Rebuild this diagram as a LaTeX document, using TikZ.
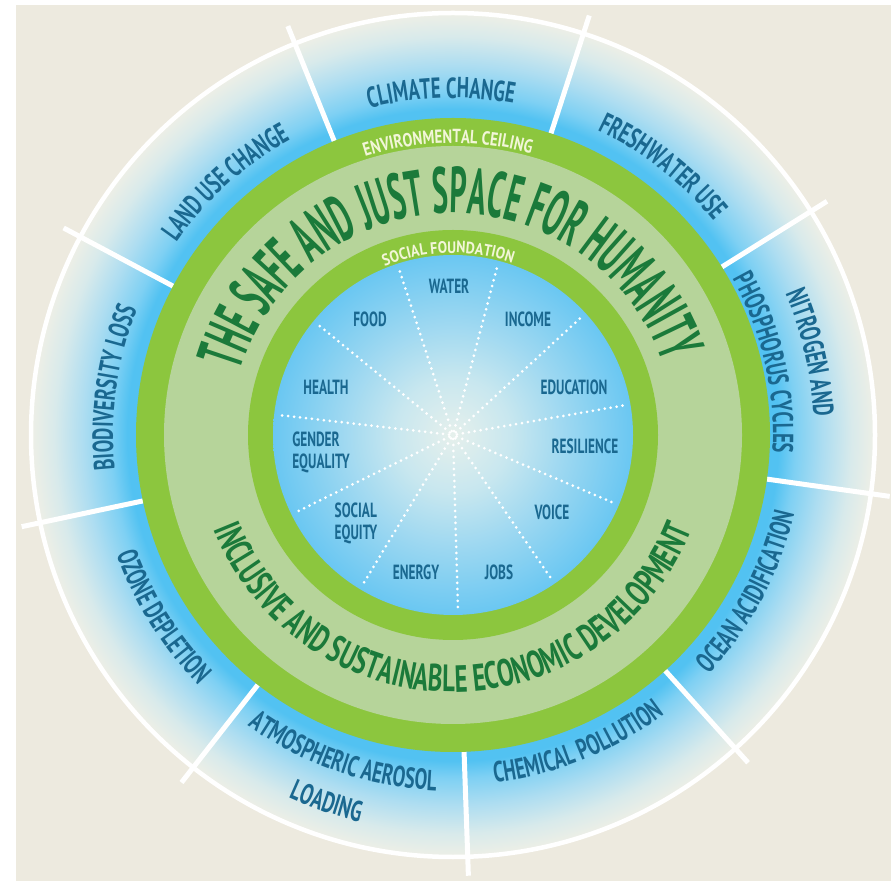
\documentclass[tikz,border=0pt]{standalone}
\usepackage{fontspec}
\usetikzlibrary{decorations.text}
\newfontfamily\labfont{PT Sans}[FakeStretch=0.65]
\newfontfamily\ringfont{PT Sans}[FakeStretch=0.78]
\newfontfamily\sfoundfont{PT Sans}[FakeStretch=0.85]
\newfontfamily\bigfont{PT Sans}[FakeStretch=0.46]
\newfontfamily\botfont{PT Sans}[FakeStretch=0.65]
\definecolor{beige}{HTML}{EDEADF}
\definecolor{ringblue}{HTML}{52C2F2}
\definecolor{ringblueb}{HTML}{7ED0F3}
\definecolor{ringbluec}{HTML}{ADDDF1}
\definecolor{ringblued}{HTML}{D8EAEB}
\definecolor{ringpale}{HTML}{EEEFE6}
\definecolor{corea}{HTML}{6AC7F2}
\definecolor{coreb}{HTML}{9BD7F1}
\definecolor{corec}{HTML}{C8E7EF}
\definecolor{cored}{HTML}{E6F0EC}
\definecolor{ringgreen}{HTML}{8CC63E}
\definecolor{lightgreen}{HTML}{B6D49A}
\definecolor{labblue}{HTML}{1A6890}
\definecolor{dgreen}{HTML}{1B7A3A}
\definecolor{palew}{HTML}{F2F6D8}
\pgfdeclareradialshading{ringshade}{\pgfpoint{0bp}{0bp}}{color(0bp)=(ringblue); color(18.8bp)=(ringblue); color(19.3bp)=(ringblue); color(20.3bp)=(ringblueb); color(21.9bp)=(ringbluec); color(23.6bp)=(ringblued); color(25bp)=(ringpale); color(50bp)=(ringpale)}
\pgfdeclareradialshading{coreshade}{\pgfpoint{0bp}{0bp}}{color(0bp)=(cored); color(8bp)=(corec); color(16bp)=(coreb); color(25bp)=(corea); color(50bp)=(corea)}
\newcommand\LabFmt{\labfont\bfseries\fontsize{29}{29}\selectfont\color{labblue}}
\newcommand\InFmt{\labfont\bfseries\fontsize{20.5}{22}\selectfont\color{labblue}}
\newcommand\TopArc[4]{\path[decorate,decoration={text along path,text align=center,text={|#3|#4}}] ({#1+85}:#2) arc[start angle={#1+85}, end angle={#1-85}, radius=#2pt];}
\newcommand\BotArc[4]{\path[decorate,decoration={text along path,text align=center,text={|#3|#4}}] ({#1-85}:#2) arc[start angle={#1-85}, end angle={#1+85}, radius=#2pt];}
\tikzset{
  sepline/.style={white, line width=5pt},
  dotline/.style={white, line width=3pt, line cap=round, dash pattern=on 0pt off 6pt},
  inlab/.style={font=\InFmt, inner sep=0pt}
}
\begin{document}
\begin{tikzpicture}[x=1pt,y=1pt]
\useasboundingbox (0,0) rectangle (891,881);
\fill[white] (0,0) rectangle (891,881);
\fill[beige] (16,0) rectangle (891,876);
\begin{scope}[shift={(453,446)}]
  % outer boundary band
  \shade[shading=ringshade] (0,0) circle[radius=422pt];
  \draw[white, line width=4.5pt] (0,0) circle[radius=422pt];
  \foreach \a in {32,72,...,352} \draw[sepline] (\a:317) -- (\a:441);
  % green rings
  \fill[ringgreen] (0,0) circle[radius=317pt];
  \fill[lightgreen] (0,0) circle[radius=289pt];
  \fill[ringgreen] (0,0) circle[radius=205pt];
  \shade[shading=coreshade] (0,0) circle[radius=180pt];
  % dotted spokes
  \foreach \i in {0,...,10} \draw[dotline] ({108-\i*32.7273}:4) -- ({108-\i*32.7273}:177);
  % planetary boundaries
  \TopArc{92}{337}{\LabFmt}{CLIMATE CHANGE}
  \TopArc{52}{337}{\LabFmt}{FRESHWATER USE}
  \TopArc{132}{337}{\LabFmt}{LAND USE CHANGE}
  \TopArc{172}{340}{\LabFmt}{BIODIVERSITY LOSS}
  \TopArc{13}{361}{\LabFmt}{NITROGEN AND}
  \TopArc{13}{320}{\LabFmt}{PHOSPHORUS CYCLES}
  \BotArc{212}{357}{\LabFmt}{OZONE DEPLETION}
  \BotArc{251}{356}{\LabFmt}{ATMOSPHERIC AEROSOL}
  \BotArc{251}{398}{\LabFmt}{LOADING}
  \BotArc{292}{350}{\LabFmt}{CHEMICAL POLLUTION}
  \BotArc{332}{350}{\LabFmt}{OCEAN ACIDIFICATION}
  % ring texts
  \TopArc{91}{292}{\ringfont\bfseries\fontsize{19}{19}\selectfont\color{palew}}{ENVIRONMENTAL CEILING}
  \TopArc{91.5}{182}{\sfoundfont\bfseries\fontsize{16.5}{16.5}\selectfont\color{palew}}{SOCIAL FOUNDATION}
  \TopArc{91.2}{222}{\bigfont\bfseries\fontsize{65}{65}\selectfont\color{dgreen}}{THE SAFE AND JUST SPACE FOR HUMANITY}
  \BotArc{270}{257}{\botfont\bfseries\fontsize{38}{38}\selectfont\color{dgreen}}{INCLUSIVE AND SUSTAINABLE ECONOMIC DEVELOPMENT}
\end{scope}
% social foundation dimensions
\node[inlab] (water) at (449,595) {WATER};
\node[inlab] (food) at (370,562) {FOOD};
\node[inlab] (income) at (528,562) {INCOME};
\node[inlab] (health) at (326,494) {HEALTH};
\node[inlab] (education) at (574,494) {EDUCATION};
\node[inlab, align=left] (gender) at (321,429) {GENDER\\EQUALITY};
\node[inlab] (resilience) at (585,435) {RESILIENCE};
\node[inlab, align=left] (socialeq) at (356,358) {SOCIAL\\EQUITY};
\node[inlab] (voice) at (552,369) {VOICE};
\node[inlab] (energy) at (416,309) {ENERGY};
\node[inlab] (jobs) at (499,309) {JOBS};
\end{tikzpicture}
\end{document}
